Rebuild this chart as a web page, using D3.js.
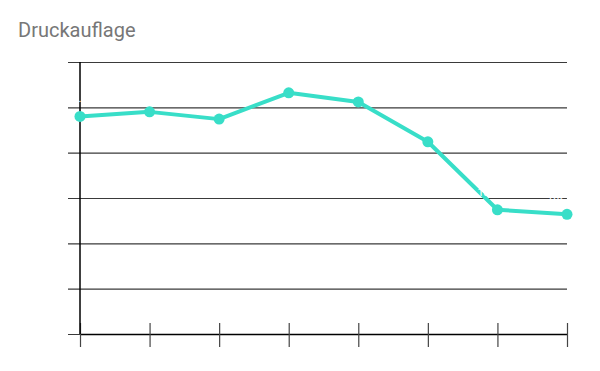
<!DOCTYPE html>
<html><head><meta charset="utf-8">
<script src="https://cdn.jsdelivr.net/npm/d3@7"></script>
<style>body{margin:0;background:#fff;}svg{display:block;font-family:Roboto,sans-serif;}</style>
</head><body><svg id="c" width="600" height="371"></svg>
<script>
const categories = ["2012","2013","2014","2015","2016","2017","2018","2019"];
const values = [240000, 245000, 237000, 266000, 256000, 212000, 137000, 132000];
const yTicks = [0, 50000, 100000, 150000, 200000, 250000, 300000];
const title = "Druckauflage";

const svg = d3.select("#c");
const m = {l:80, r:33, t:62, b:37};
const W = 600, H = 371;
const x = d3.scalePoint().domain(categories).range([m.l, W - m.r]);
const y = d3.scaleLinear().domain([0, 300000]).range([H - m.b, m.t]);
const fmt = d => d3.format(",")(d).replace(/,/g, ".");

svg.append("text").attr("x", 18).attr("y", 37).attr("fill", "#777")
  .style("font-size", "20px").text(title);

// grid
const gy = svg.append("g").attr("transform", `translate(${m.l},0)`)
  .call(d3.axisLeft(y).tickValues(yTicks).tickSize(-(W - m.r - m.l)).tickSizeOuter(0).tickFormat(fmt).tickPadding(16));
gy.select(".domain").remove();
gy.selectAll(".tick line").attr("stroke", "#3a3a3a").attr("stroke-width", 1.2).attr("x1", -12);
gy.selectAll(".tick text").attr("fill", "#fff").style("font-size", "11px");

// x axis
const gx = svg.append("g").attr("transform", `translate(0,${H - m.b})`)
  .call(d3.axisBottom(x).tickSize(13).tickSizeOuter(0).tickPadding(8));
gx.select(".domain").attr("stroke", "#000").attr("stroke-width", 1.5);
gx.selectAll(".tick line").attr("stroke", "#444").attr("y1", -11).attr("stroke-width", 1.2);
gx.selectAll(".tick text").attr("fill", "#fff").style("font-size", "11px");

// y axis line
svg.append("line").attr("x1", m.l).attr("x2", m.l).attr("y1", m.t).attr("y2", H - m.b)
  .attr("stroke", "#000").attr("stroke-width", 1.5);

const color = "#38dec8";
svg.append("path").datum(values)
  .attr("d", d3.line().x((d,i) => x(categories[i])).y(d => y(d)))
  .attr("fill", "none").attr("stroke", color).attr("stroke-width", 4).attr("stroke-linejoin", "round");

svg.selectAll("circle.pt").data(values).join("circle").attr("class", "pt")
  .attr("cx", (d,i) => x(categories[i])).attr("cy", d => y(d)).attr("r", 5.5).attr("fill", color);

svg.selectAll("text.lbl").data(values).join("text").attr("class", "lbl")
  .attr("x", (d,i) => x(categories[i])).attr("y", d => y(d) - 14)
  .attr("text-anchor", "middle").attr("fill", "#fff").style("font-size", "11px").text(fmt);
</script></body></html>
